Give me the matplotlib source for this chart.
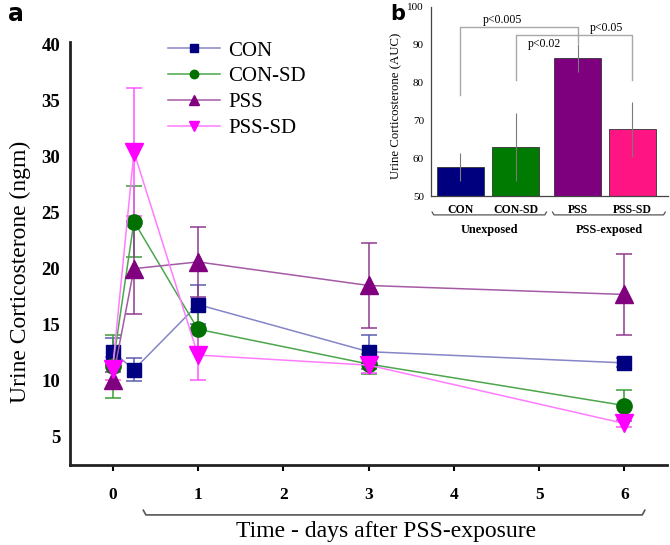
import matplotlib
matplotlib.use("Agg")
import matplotlib.pyplot as plt
import matplotlib.transforms as mtrans

# ---------------- data ----------------
days = [0, 0.25, 1, 3, 6]
x_ticks = [0, 1, 2, 3, 4, 5, 6]
y_ticks = [5, 10, 15, 20, 25, 30, 35, 40]

series_names = ["CON", "CON-SD", "PSS", "PSS-SD"]
con_vals = [12.6, 11.0, 16.8, 12.6, 11.6]
con_err = [1.2, 1.0, 1.7, 1.5, 0.4]
consd_vals = [11.3, 24.2, 14.6, 11.5, 7.8]
consd_err = [2.8, 3.2, 1.8, 0.9, 1.4]
pss_vals = [10.1, 20.0, 20.6, 18.5, 17.7]
pss_err = [0.7, 4.0, 3.1, 3.8, 3.6]
psssd_vals = [11.1, 30.4, 12.3, 11.4, 6.2]
psssd_err = [1.0, 5.7, 2.2, 0.7, 0.3]

bar_groups = ["CON", "CON-SD", "PSS", "PSS-SD"]
bar_pos = [0, 1, 2.13, 3.11]
auc_vals = [57.8, 63.0, 86.5, 67.7]
auc_err = [3.7, 9.0, 3.6, 7.3]
inset_ticks = [50, 60, 70, 80, 90, 100]

serif = ["Liberation Serif", "DejaVu Serif"]
plt.rcParams['font.family'] = serif

fig = plt.figure(figsize=(6.7, 5.45), dpi=100)

# ---------------- main panel ----------------
ax = fig.add_axes([70/670, 80/545, 597/670, 423/545])
styles = [
    dict(vals=con_vals, err=con_err, line='#8585c8', mk='#000080', ecol='#5c5cb0', marker='s', ms=10),
    dict(vals=consd_vals, err=consd_err, line='#4ca64c', mk='#007000', ecol='#3c9c3c', marker='o', ms=11),
    dict(vals=pss_vals, err=pss_err, line='#a55aa5', mk='#800080', ecol='#8f3a8f', marker='^', ms=13),
    dict(vals=psssd_vals, err=psssd_err, line='#ff7cff', mk='#ff00ff', ecol='#ff55ff', marker='v', ms=13),
]
for name, st in zip(series_names, styles):
    ax.errorbar(days, st['vals'], yerr=st['err'], fmt='none', ecolor=st['ecol'],
                elinewidth=1.1, capsize=6, capthick=1.1, zorder=2)
    ax.plot(days, st['vals'], color=st['line'], lw=1.1, marker=st['marker'],
            ms=st['ms'], mfc=st['mk'], mec=st['mk'], label=name, zorder=3)

ax.set_xlim(-0.5, 6.5)
ax.set_ylim(2.5, 40.2)
ax.set_xticks(x_ticks)
ax.set_yticks(y_ticks)
ax.tick_params(axis='x', length=4, width=1.5, labelsize=12.5, pad=12)
ax.tick_params(axis='y', length=0, labelsize=13.5, pad=7)
for lab in ax.get_xticklabels() + ax.get_yticklabels():
    lab.set_fontweight('bold')
for s in ['top', 'right']:
    ax.spines[s].set_visible(False)
for s in ['left', 'bottom']:
    ax.spines[s].set_linewidth(2)
    ax.spines[s].set_color('#222222')

fig.text(20/670, 1 - 272/545, "Urine Corticosterone (ngm)", fontsize=17,
         rotation=90, ha='center', va='center')

# bracket under x axis
btr = mtrans.blended_transform_factory(ax.transData, ax.transAxes)
bx0, bx1 = 0.36, 6.24
ax.plot([bx0, bx0 + 0.03, bx1 - 0.03, bx1], [-0.107, -0.118, -0.118, -0.107],
        transform=btr, color='#555555', lw=1.2, clip_on=False)
fig.text(386/670, 1 - 531/545, "Time - days after PSS-exposure", fontsize=17,
         ha='center', va='center')

leg = ax.legend(loc='upper left', bbox_to_anchor=(168/670, 1 - 41/545),
                bbox_transform=fig.transFigure, frameon=False,
                prop={'family': serif, 'size': 15},
                handlelength=2.5, handletextpad=0.4, labelspacing=0.3,
                borderpad=0, borderaxespad=0, markerscale=0.55)

fig.text(8/670, 1 - 14/545, "a", fontsize=17, fontweight='bold',
         family='DejaVu Sans', ha='left', va='center')

# ---------------- inset panel ----------------
ia = fig.add_axes([431/670, 1 - 196/545, 237/670, 189/545])
bar_colors = ['#00007f', '#007a00', '#7f007f', '#ff1484']
ia.bar(bar_pos, auc_vals, width=0.85, bottom=0, color=bar_colors,
       edgecolor='#333333', linewidth=0.6, zorder=2)
ia.errorbar(bar_pos, auc_vals, yerr=auc_err, fmt='none', ecolor='#7a7a7a',
            elinewidth=0.8, capsize=0, zorder=3)
ia.set_ylim(50, 100)
ia.set_xlim(-0.53, 3.76)
ia.set_yticks(inset_ticks)
ia.set_xticks(bar_pos)
ia.set_xticklabels(bar_groups)
ia.tick_params(axis='both', length=0, labelsize=8)
ia.tick_params(axis='x', pad=6)
ia.tick_params(axis='y', pad=5)
for lab in ia.get_xticklabels():
    lab.set_fontweight('bold')
    lab.set_fontsize(8.5)
for s in ['top', 'right']:
    ia.spines[s].set_visible(False)
for s in ['left', 'bottom']:
    ia.spines[s].set_linewidth(0.9)
    ia.spines[s].set_color('#444444')
fig.text(396/670, 1 - 106/545, "Urine Corticosterone (AUC)", fontsize=9.2,
         rotation=90, ha='center', va='center')

gcol = '#a8a8a8'
# p<0.005: CON - PSS
ia.plot([bar_pos[0], bar_pos[0], bar_pos[2], bar_pos[2]], [76.6, 94.8, 94.8, 90.6],
        color=gcol, lw=1.0, clip_on=False, zorder=1)
# p<0.02: CON-SD - PSS
ia.plot([bar_pos[1], bar_pos[1], bar_pos[2]], [80.6, 92.6, 92.6],
        color=gcol, lw=1.0, clip_on=False, zorder=1)
# p<0.05: PSS - PSS-SD
ia.plot([bar_pos[2], bar_pos[3], bar_pos[3]], [92.6, 92.6, 80.6],
        color=gcol, lw=1.0, clip_on=False, zorder=1)
ia.text(0.76, 96.6, "p<0.005", fontsize=8.5, ha='center', va='center')
ia.text(1.53, 90.3, "p<0.02", fontsize=8.5, ha='center', va='center')
ia.text(2.65, 94.4, "p<0.05", fontsize=8.5, ha='center', va='center')

itr = mtrans.blended_transform_factory(ia.transData, ia.transAxes)
for (g0, g1, lab) in [(-0.51, 1.56, "Unexposed"), (1.67, 3.71, "PSS-exposed")]:
    ia.plot([g0, g0 + 0.03, g1 - 0.03, g1], [-0.085, -0.10, -0.10, -0.085],
            transform=itr, color='#555555', lw=0.9, clip_on=False)
    ia.text((g0 + g1) / 2, -0.18, lab, transform=itr, fontsize=8.8,
            fontweight='bold', ha='center', va='center')

fig.text(398/670, 1 - 14/545, "b", fontsize=15, fontweight='bold',
         family='DejaVu Sans', ha='center', va='center')

fig.savefig("out.png", dpi=100)
